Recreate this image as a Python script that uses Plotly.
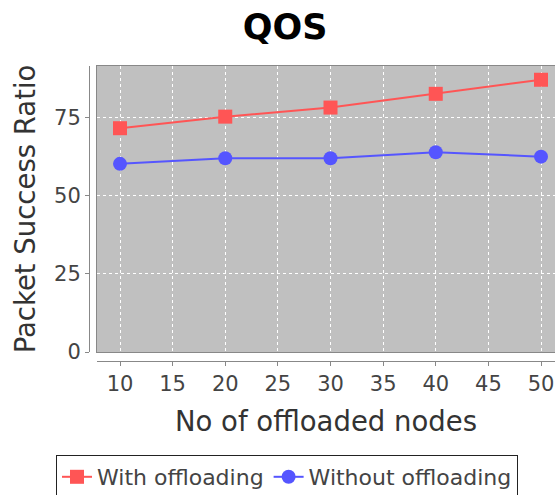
import plotly.graph_objects as go

nodes = [10, 20, 30, 40, 50]
with_offloading = [71.6, 75.3, 78.2, 82.6, 87.1]
without_offloading = [60.2, 62.0, 62.0, 63.9, 62.5]
x_ticks = [10, 15, 20, 25, 30, 35, 40, 45, 50]
y_ticks = [0, 25, 50, 75]

FONT = "DejaVu Sans"
XR = [7.815, 51.33]
YR = [0, 91.5]

fig = go.Figure()
fig.add_trace(go.Scatter(x=nodes, y=with_offloading, name="With offloading",
                         mode="lines+markers",
                         line=dict(color="#FF5555", width=2),
                         marker=dict(symbol="square", size=14, color="#FF5555")))
fig.add_trace(go.Scatter(x=nodes, y=without_offloading, name="Without offloading",
                         mode="lines+markers",
                         line=dict(color="#5555FF", width=2),
                         marker=dict(symbol="circle", size=14, color="#5555FF")))
# invisible trace that carries the offset axes
fig.add_trace(go.Scatter(x=nodes, y=with_offloading, xaxis="x2", yaxis="y2",
                         mode="markers", marker=dict(opacity=0), showlegend=False,
                         hoverinfo="skip"))

W, H = 555, 495
ml, mr, mt, mb = 89, 0, 66, 134
pw, ph = W - ml - mr, H - mt - mb

grid = dict(showgrid=True, gridcolor="white", griddash="3px,3px", gridwidth=1)

fig.update_layout(
    width=W, height=H,
    margin=dict(l=ml, r=mr, t=mt, b=mb, autoexpand=False),
    paper_bgcolor="white", plot_bgcolor="#C0C0C0",
    font=dict(family=FONT, color="#444444"),
    title=dict(text="<b>QOS</b>", font=dict(size=35, color="black", family=FONT),
               x=285 / W, xref="container", xanchor="center",
               y=1 - 27 / H, yref="container", yanchor="middle"),
    xaxis=dict(domain=[8 / pw, 1], range=XR, tickvals=x_ticks, showticklabels=False,
               ticks="", showline=True, linecolor="#888888", linewidth=1, mirror=True,
               zeroline=False, **grid),
    yaxis=dict(domain=[9 / ph, 1], range=YR, tickvals=y_ticks, showticklabels=False,
               ticks="", showline=True, linecolor="#888888", linewidth=1, mirror=False,
               zeroline=False, **grid),
    xaxis2=dict(overlaying="x", anchor="free", position=0, range=XR, tickvals=x_ticks,
                ticks="outside", ticklen=4, tickcolor="#888888",
                showline=True, linecolor="#888888", linewidth=1, showgrid=False,
                zeroline=False, tickfont=dict(size=21, color="#444444"),
                title=dict(text="No of offloaded nodes", standoff=16,
                           font=dict(size=27.5, color="#333333"))),
    yaxis2=dict(overlaying="y", anchor="free", position=0, range=YR, tickvals=y_ticks,
                ticks="outside", ticklen=4, tickcolor="#888888",
                showline=True, linecolor="#888888", linewidth=1, showgrid=False,
                zeroline=False, tickfont=dict(size=21, color="#444444"),
                title=dict(text="Packet Success Ratio", standoff=9,
                           font=dict(size=27.5, color="#333333"))),
    legend=dict(orientation="h", xref="container", x=287 / W, xanchor="center",
                yref="container", y=1 - 455 / H, yanchor="top",
                bordercolor="#222222", borderwidth=1, bgcolor="white",
                font=dict(size=22, color="#444444")),
    showlegend=True,
)

fig.write_html("out.html", config={"displayModeBar": False},
               post_script="document.body.style.margin='0';")
